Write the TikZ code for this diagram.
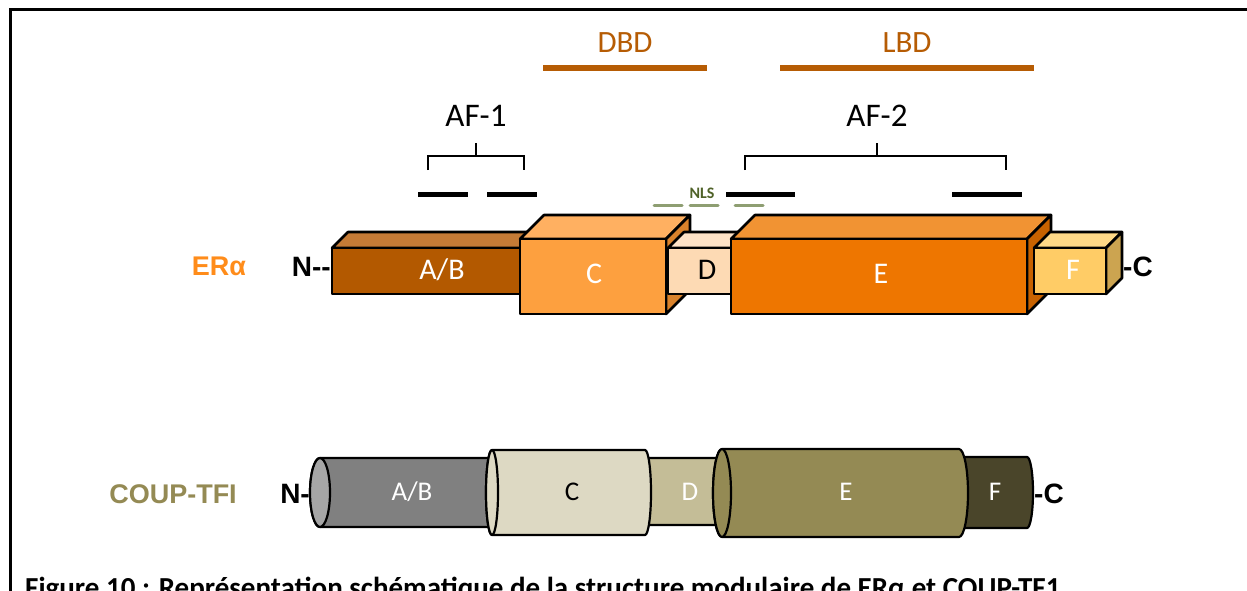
\documentclass[tikz,border=0pt]{standalone}
\usepackage{fontspec}
\setmainfont{Carlito}
\newfontfamily\arialfont{Liberation Sans}

% colours
\definecolor{domcol}{HTML}{B65C04}
\definecolor{eracol}{HTML}{FF8C1A}
\definecolor{coupcol}{HTML}{948A54}
\definecolor{nlscol}{HTML}{4F6228}
\definecolor{nlsdash}{HTML}{8E9E72}

% ER alpha boxes: front / top / side
\definecolor{abF}{HTML}{B35900}\definecolor{abT}{HTML}{C57B36}\definecolor{abS}{HTML}{8A4500}
\definecolor{cF}{HTML}{FDA03F}\definecolor{cT}{HTML}{FFB061}\definecolor{cS}{HTML}{D9822B}
\definecolor{dF}{HTML}{FDDAB4}\definecolor{dT}{HTML}{FEE3C7}\definecolor{dS}{HTML}{E0BC98}
\definecolor{eF}{HTML}{EE7600}\definecolor{eT}{HTML}{F19333}\definecolor{eS}{HTML}{C76200}
\definecolor{fF}{HTML}{FFCC66}\definecolor{fT}{HTML}{FFD987}\definecolor{fS}{HTML}{CCA450}

% COUP-TFI cylinders
\definecolor{kAB}{HTML}{808080}\definecolor{kABcap}{HTML}{A6A6A6}
\definecolor{kC}{HTML}{DDD9C3}\definecolor{kD}{HTML}{C4BD97}
\definecolor{kE}{HTML}{948A54}\definecolor{kF}{HTML}{4A452A}

\tikzset{
  boxline/.style={draw=black, line width=2.6pt, line join=round},
  cylline/.style={draw=black, line width=2.2pt, line join=round},
  dombar/.style={draw=domcol, line width=6pt},
  afbar/.style={draw=black, line width=5.5pt},
  bracketline/.style={draw=black, line width=2.2pt},
  nlsline/.style={draw=nlsdash, line width=3pt, line cap=round},
  boxlbl/.style={font=\fontsize{30}{30}\selectfont, text=white, anchor=base, inner sep=0pt},
  cyllbl/.style={font=\fontsize{27}{27}\selectfont, text=white, anchor=base, inner sep=0pt},
  domlbl/.style={font=\fontsize{31}{31}\selectfont, text=domcol, anchor=base, inner sep=0pt},
  aflbl/.style={font=\fontsize{33}{33}\selectfont, text=black, anchor=base, inner sep=0pt},
  endlbl/.style={font=\arialfont\bfseries\fontsize{28}{28}\selectfont, text=black, inner sep=0pt},
  protlbl/.style={font=\arialfont\bfseries\fontsize{27}{27}\selectfont, anchor=base, inner sep=0pt},
}

% prism: x1 y1 x2 y2 (front face), depth, front, top, side colours
\newcommand\prism[8]{%
  \filldraw[boxline, fill=#7] (#1,#2) -- ++(#5,-#5) -- ({#3+#5},{#2-#5}) -- (#3,#2) -- cycle;
  \filldraw[boxline, fill=#8] (#3,#2) -- ({#3+#5},{#2-#5}) -- ({#3+#5},{#4-#5}) -- (#3,#4) -- cycle;
  \filldraw[boxline, fill=#6] (#1,#2) rectangle (#3,#4);
}

% cylinder: x1 x2 top bottom, end radius, body colour
\newcommand\cylinder[6]{%
  \filldraw[cylline, fill=#6] (#1,#3) -- (#2,#3)
    arc[start angle=90, end angle=-90, x radius=#5pt, y radius={(#4-#3)/2*1pt}]
    -- (#1,#4)
    arc[start angle=270, end angle=90, x radius=#5pt, y radius={(#4-#3)/2*1pt}] -- cycle;
}
% visible left end of a cylinder
\newcommand\cylend[6]{%
  \filldraw[cylline, fill=#6] (#1,{(#3+#4)/2}) ellipse[x radius=#5pt, y radius={(#4-#3)/2*1pt}];
}

\begin{document}
\begin{tikzpicture}[x=1pt, y=-1pt]
\useasboundingbox (0,0) rectangle (1247,591);
\clip (0,0) rectangle (1247,591);
\fill[white] (0,0) rectangle (1247,591);

% frame
\draw[line width=3pt] (1250,10) -- (10,10) -- (10,600);

% domain bars
\node[domlbl] (dbd) at (625,53) {DBD};
\node[domlbl] (lbd) at (907,53) {LBD};
\draw[dombar] (543,68) -- (707,68);
\draw[dombar] (780,68) -- (1034,68);

% activation functions
\node[aflbl] (af1) at (476,127) {AF-1};
\node[aflbl] (af2) at (877,127) {AF-2};
\draw[bracketline] (428,170) -- (428,156) -- (524,156) -- (524,170);
\draw[bracketline] (476,156) -- (476,143);
\draw[bracketline] (745,170) -- (745,156) -- (1006,156) -- (1006,170);
\draw[bracketline] (877,156) -- (877,143);

\draw[afbar] (418,194.5) -- (468,194.5);
\draw[afbar] (487,194.5) -- (537,194.5);
\draw[afbar] (726,194.5) -- (795,194.5);
\draw[afbar] (952,194.5) -- (1022,194.5);

% nuclear localisation signal
\node[font=\bfseries\fontsize{16}{16}\selectfont, text=nlscol, anchor=base, inner sep=0pt] (nls) at (702,198) {NLS};
\draw[nlsline] (654,205) -- (682,205);
\draw[nlsline] (690,205) -- (718,205);
\draw[nlsline] (735,205) -- (763,205);

% ER alpha
\node[protlbl, text=eracol] (era) at (219,275) {ERα};
\prism{332}{248}{521}{294}{16}{abF}{abT}{abS}
\prism{520}{239}{666}{314}{24}{cF}{cT}{cS}
\prism{668}{248}{731}{294}{16}{dF}{dT}{dS}
\prism{731}{239}{1027}{314}{24}{eF}{eT}{eS}
\prism{1034}{248}{1106}{294}{16}{fF}{fT}{fS}
\node[boxlbl] (eab) at (442,279) {A/B};
\node[boxlbl] (ec) at (594,283) {C};
\node[boxlbl, text=black] (ed) at (707,279) {D};
\node[boxlbl] (ee) at (881,283) {E};
\node[boxlbl] (ef) at (1073,279) {F};
\node[endlbl, anchor=base east] (en) at (331,276) {N-{}-};
\node[endlbl, anchor=base west] (ecend) at (1123,276) {-C};

% COUP-TFI
\node[protlbl, text=coupcol] (coup) at (173,503) {COUP-TFI};
\cylinder{320}{490}{458}{527}{10}{kAB}
\cylend{320}{490}{458}{527}{10}{kABcap}
\cylinder{645}{725}{458}{525}{6}{kD}
\cylinder{955}{1027}{457}{528}{6}{kF}
\cylinder{492}{645}{450}{535}{6}{kC}
\cylend{492}{645}{450}{535}{6}{kC}
\cylinder{722}{959}{449}{537}{9}{kE}
\cylend{722}{959}{449}{537}{9}{kE}
\node[cyllbl] (cab) at (412,500) {A/B};
\node[cyllbl, text=black] (cc) at (572,500) {C};
\node[cyllbl] (cd) at (690,500) {D};
\node[cyllbl] (ce) at (846,500) {E};
\node[cyllbl] (cf) at (995,500) {F};
\node[endlbl, anchor=base east] (cn) at (310,503) {N-};
\node[endlbl, anchor=base west] (ccend) at (1034,503) {-C};

% caption
\node[font=\bfseries\fontsize{29}{29}\selectfont, anchor=base west, inner sep=0pt] (caption) at (25,597)
  {Figure 10 : Représentation schématique de la structure modulaire de ERα et COUP-TF1};
\end{tikzpicture}
\end{document}
